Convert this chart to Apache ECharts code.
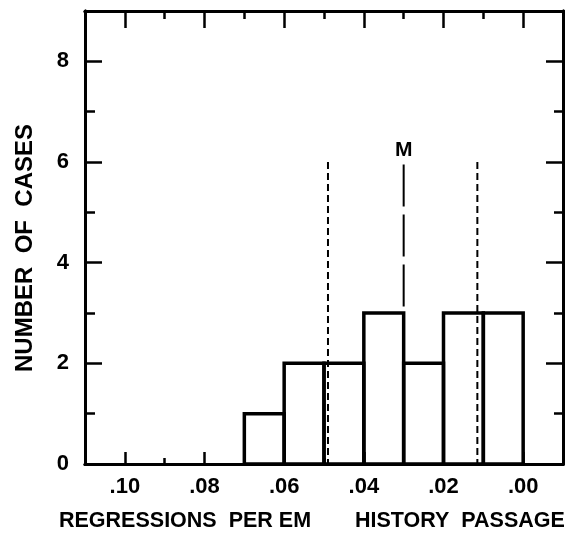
<!DOCTYPE html>
<html>
<head>
<meta charset="utf-8">
<script src="https://cdn.jsdelivr.net/npm/echarts@6/dist/echarts.min.js"></script>
<style>
  html, body { margin: 0; padding: 0; background: #fff; }
  #chart { width: 574px; height: 542px; }
</style>
</head>
<body>
<div id="chart"></div>
<script>
// histogram bins: upper edge of each bin (x axis runs from .11 down to -.01)
const binStart = [0.07, 0.06, 0.05, 0.04, 0.03, 0.02, 0.01];
const binWidth = 0.01;
const counts = [1, 2, 2, 3, 2, 3, 3];

// vertical reference lines: x position, top value, dash style
const refX = [0.049, 0.030, 0.0115];
const refTop = [6.0, 5.95, 6.0];
const refKind = ['short', 'long', 'short'];
const refLabel = ['', 'M', ''];

// tick values
const xMajor = [0.10, 0.08, 0.06, 0.04, 0.02, 0.00];
const xMinor = [0.11, 0.09, 0.07, 0.05, 0.03, 0.01, -0.01];
const yMajor = [0, 2, 4, 6, 8];
const yMinor = [1, 3, 5, 7, 9];

const FONT = 'Liberation Sans';

function xLabel(v) {
  return '.' + String(Math.round(Math.abs(v) * 100)).padStart(2, '0');
}

let chart = echarts.init(document.getElementById('chart'));

function xAxisDef(pos, tickVals, len, showLabel) {
  return {
    type: 'value', position: pos, inverse: true,
    min: -0.01, max: 0.11,
    axisLine: { show: true, onZero: false, lineStyle: { color: '#000', width: 3 } },
    axisTick: { show: true, inside: true, length: len, customValues: tickVals,
      lineStyle: { color: '#000', width: 2.5 } },
    axisLabel: showLabel ? {
      show: true, customValues: tickVals, formatter: xLabel, margin: 12,
      color: '#000', fontFamily: FONT, fontWeight: 'bold', fontSize: 22
    } : { show: false },
    splitLine: { show: false }
  };
}

function yAxisDef(pos, tickVals, len, showLabel) {
  return {
    type: 'value', position: pos,
    min: 0, max: 9,
    axisLine: { show: true, onZero: false, lineStyle: { color: '#000', width: 3 } },
    axisTick: { show: true, inside: true, length: len, customValues: tickVals,
      lineStyle: { color: '#000', width: 2.5 } },
    axisLabel: showLabel ? {
      show: true, customValues: tickVals, margin: 16,
      color: '#000', fontFamily: FONT, fontWeight: 'bold', fontSize: 22
    } : { show: false },
    splitLine: { show: false }
  };
}

const option = {
  animation: false,
  backgroundColor: '#fff',
  grid: { left: 85, top: 11, width: 478, height: 453 },
  xAxis: [
    xAxisDef('bottom', xMajor, 12, true),
    xAxisDef('bottom', xMinor, 6, false),
    xAxisDef('top', xMajor, 17, false),
    xAxisDef('top', xMinor, 8, false)
  ],
  yAxis: [
    yAxisDef('left', yMajor, 17, true),
    yAxisDef('left', yMinor, 10, false),
    yAxisDef('right', yMajor, 17, false),
    yAxisDef('right', yMinor, 9, false)
  ],
  graphic: [
    {
      type: 'text', left: 59, top: 510,
      style: { text: 'REGRESSIONS  PER EM', fill: '#000',
        font: 'bold 21.5px "Liberation Sans"' }
    },
    {
      type: 'text', left: 355, top: 510,
      style: { text: 'HISTORY  PASSAGE', fill: '#000',
        font: 'bold 21.5px "Liberation Sans"' }
    },
    {
      type: 'text', x: 25, y: 248, rotation: Math.PI / 2,
      style: { text: 'NUMBER  OF  CASES', fill: '#000', align: 'center', verticalAlign: 'middle',
        font: 'bold 24px "Liberation Sans"' }
    }
  ],
  series: [
    {
      type: 'custom',
      xAxisIndex: 0, yAxisIndex: 0,
      data: binStart.map((s, i) => [s, counts[i]]),
      renderItem: function (params, api) {
        const p0 = api.coord([api.value(0), api.value(1)]);
        const p1 = api.coord([api.value(0) - binWidth, 0]);
        return {
          type: 'rect',
          shape: { x: p0[0], y: p0[1], width: p1[0] - p0[0], height: p1[1] - p0[1] },
          style: { fill: 'none', stroke: '#000', lineWidth: 3.5 }
        };
      }
    },
    {
      type: 'custom',
      xAxisIndex: 0, yAxisIndex: 0,
      data: refX.map((x, i) => [x, refTop[i], i]),
      renderItem: function (params, api) {
        const i = api.value(2);
        const top = api.coord([api.value(0), api.value(1)]);
        const bot = api.coord([api.value(0), 0]);
        const children = [{
          type: 'line',
          shape: { x1: top[0], y1: top[1], x2: bot[0], y2: bot[1] },
          style: { stroke: '#000', lineWidth: 2,
            lineDash: refKind[i] === 'long' ? [42, 8] : [7, 4] }
        }];
        if (refLabel[i]) {
          children.push({
            type: 'text',
            style: { text: refLabel[i], x: top[0], y: top[1] - 4, align: 'center',
              verticalAlign: 'bottom', fill: '#000', font: 'bold 21px "Liberation Sans"' }
          });
        }
        return { type: 'group', children: children };
      }
    }
  ]
};

chart.setOption(option);
</script>
</body>
</html>
